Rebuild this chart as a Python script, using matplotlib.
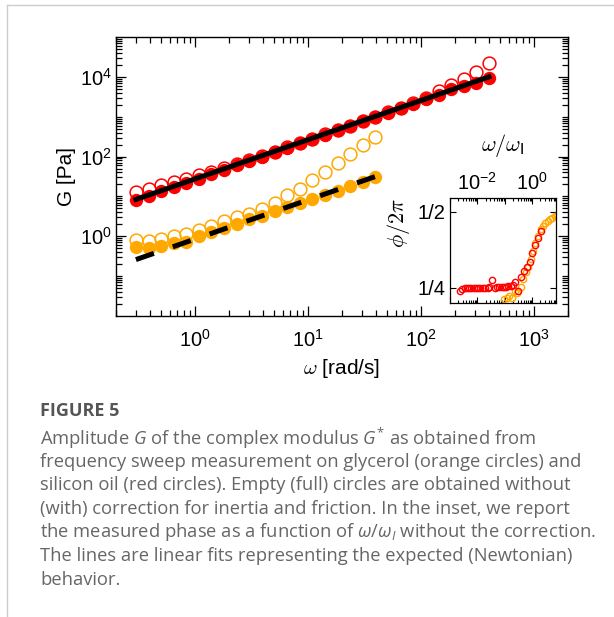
import numpy as np
import matplotlib
matplotlib.use('Agg')
import matplotlib.pyplot as plt
from matplotlib.ticker import LogLocator, NullFormatter, FixedLocator

plt.rcParams['font.family'] = ['Liberation Sans', 'DejaVu Sans']
plt.rcParams['mathtext.fontset'] = 'custom'
plt.rcParams['mathtext.rm'] = 'Open Sans'
plt.rcParams['mathtext.it'] = 'Open Sans:italic'

# frequency sweep [rad/s]
omega = [0.3, 0.388, 0.501, 0.648, 0.838, 1.083, 1.40, 1.81, 2.34, 3.03,
         3.91, 5.06, 6.54, 8.45, 10.9, 14.1, 18.3, 23.6, 30.5, 39.5,
         51.0, 66.0, 85.3, 110, 143, 185, 239, 309, 400]

# silicon oil (red): corrected / uncorrected
red_full = [8.0, 10.5, 13.5, 17.5, 22, 28, 36, 46, 60, 77,
            100, 128, 165, 213, 275, 355, 460, 590, 760, 980,
            1270, 1640, 2100, 2720, 3500, 4900, 5900, 7200, 9600]
red_empty = [12.8, 15.6, 18.9, 23, 28, 35, 42, 52, 65, 82,
             104, 132, 170, 218, 280, 360, 465, 600, 775, 1000,
             1300, 1700, 2250, 3000, 4300, 6300, 8600, 13500, 22000]

# glycerol (orange): corrected / uncorrected
orange_full = [0.54, 0.51, 0.58, 0.68, 0.73, 1.0, 1.26, 1.62, 2.09, 2.74,
               3.3, 4.26, 5.5, 6.7, 8.4, 10.6, 13.6, 18.2, 22.9, 30.6]
orange_empty = [0.83, 0.78, 0.86, 1.04, 1.17, 1.47, 1.86, 2.39, 3.09, 3.67,
                4.7, 6.7, 10.6, 15.6, 25.7, 41, 68, 114, 192, 317]

# Newtonian fits (end points)
fit_red_x = [0.3, 400]
fit_red_y = [8.4, 1.0e4]
fit_orange_x = [0.3, 40]
fit_orange_y = [0.26, 32]

# inset: phase / 2pi vs omega/omega_I
inset_red_x = [10**v for v in [-2.633, -2.557, -2.467, -2.39, -2.31, -2.22, -2.14, -2.06,
                               -1.98, -1.89, -1.8, -1.72, -1.63, -1.56, -1.47, -1.36,
                               -1.28, -1.2, -1.11, -1.03, -0.94, -0.87, -0.78, -0.7,
                               -0.61, -0.53, -0.41, -0.31, -0.2, -0.09, 0.0, 0.11,
                               0.22, 0.31]]
inset_red_y = [0.241, 0.245, 0.248, 0.249, 0.249, 0.249, 0.249, 0.249,
               0.249, 0.249, 0.25, 0.25, 0.25, 0.251, 0.277, 0.25,
               0.251, 0.251, 0.252, 0.253, 0.254, 0.255, 0.257, 0.259,
               0.268, 0.241, 0.284, 0.306, 0.318, 0.336, 0.364, 0.392,
               0.414, 0.436]
inset_orange_x = [10**v for v in [-1.02, -0.93, -0.86, -0.72, -0.64, -0.55, -0.41, -0.32,
                                  -0.24, -0.15, -0.05, 0.03, 0.11, 0.2, 0.31, 0.39,
                                  0.47, 0.56, 0.64, 0.73, 0.82, 0.89]]
inset_orange_y = [0.214, 0.216, 0.224, 0.218, 0.239, 0.232, 0.254, 0.28,
                  0.302, 0.318, 0.345, 0.37, 0.397, 0.42, 0.442, 0.453,
                  0.462, 0.47, 0.476, 0.48, 0.485, 0.487]

RED = '#ff0000'
ORANGE = '#ffa800'

fig = plt.figure(figsize=(6.14, 6.17), dpi=100)

# card border
fig.add_artist(plt.Line2D([7 / 614, 1], [1 - 5 / 617] * 2, color='#cccccc', lw=1))
fig.add_artist(plt.Line2D([7 / 614] * 2, [0, 1 - 5 / 617], color='#cccccc', lw=1))

ax = fig.add_axes([116 / 614, 1 - 316 / 617, 452 / 614, 279 / 617])
ax.plot(omega, red_empty, 'o', mfc='none', mec=RED, mew=1.1, ms=9.2, zorder=2)
ax.plot(omega[:len(orange_empty)], orange_empty, 'o', mfc='none', mec=ORANGE, mew=1.1, ms=9.2, zorder=2)
ax.plot(omega, red_full, 'o', color=RED, mec='none', ms=9.6, zorder=3)
ax.plot(omega[:len(orange_full)], orange_full, 'o', color=ORANGE, mec='none', ms=9.6, zorder=3)
ax.plot(fit_red_x, fit_red_y, '-', color='black', lw=3.6, zorder=4)
ax.plot(fit_orange_x, fit_orange_y, color='black', lw=3.6, dashes=(3.8, 4),
        dash_capstyle='butt', zorder=4)

ax.set_xscale('log')
ax.set_yscale('log')
ax.set_xlim(0.2, 2000)
ax.set_ylim(1e-2, 1e5)
ax.set_yticks([1e0, 1e2, 1e4])
ax.yaxis.set_minor_locator(FixedLocator(
    [m * 10.0 ** e for e in range(-2, 5) for m in range(1, 10) if not (m == 1 and e % 2 == 0)]))
ax.yaxis.set_minor_formatter(NullFormatter())
ax.xaxis.set_minor_locator(LogLocator(base=10, subs=np.arange(2, 10), numticks=20))
ax.xaxis.set_minor_formatter(NullFormatter())
ax.tick_params(which='both', direction='in', top=True, right=True, width=0.9)
ax.tick_params(which='major', length=7, labelsize=14.5)
ax.tick_params(axis='x', which='major', pad=9)
ax.tick_params(axis='y', which='major', pad=3)
ax.tick_params(which='minor', length=4)
for s in ax.spines.values():
    s.set_linewidth(1.0)
ax.set_xlabel(r'$\omega$ [rad/s]', fontsize=15, labelpad=5, math_fontfamily='cm')
ax.set_ylabel('G [Pa]', fontsize=15, labelpad=3)

# inset
ins = fig.add_axes([450 / 614, 1 - 303 / 617, 106 / 614, 105 / 617])
ins.plot(inset_orange_x, inset_orange_y, 'o', mfc='none', mec=ORANGE, mew=1.0, ms=4.5)
ins.plot(inset_red_x, inset_red_y, 'o', mfc='none', mec=RED, mew=1.0, ms=4.5)
ins.set_xscale('log')
ins.set_xlim(2.3e-3, 7.4)
ins.set_ylim(0.2, 0.545)
ins.set_xticks([1e-3, 1e-2, 1e-1, 1e0])
ins.set_xticklabels(['', r'$\mathdefault{10^{-2}}$', '', r'$\mathdefault{10^{0}}$'])
ins.xaxis.set_minor_locator(LogLocator(base=10, subs=np.arange(2, 10), numticks=20))
ins.xaxis.set_minor_formatter(NullFormatter())
ins.set_yticks([0.25, 0.5])
ins.set_yticklabels(['1/4', '1/2'])
ins.xaxis.tick_top()
ins.tick_params(which='both', direction='in', top=True, bottom=True, left=True, right=True,
                width=0.8)
ins.tick_params(which='major', length=4, labelsize=14.5, pad=3)
ins.tick_params(which='minor', length=2)
for s in ins.spines.values():
    s.set_linewidth(0.9)
ins.xaxis.set_label_position('top')
ins.set_xlabel(r'$\omega/\omega_{\mathsf{I}}$', fontsize=16, math_fontfamily='cm')
ins.xaxis.set_label_coords(0.5, 1.45)
ins.set_ylabel(r'$\phi/2\pi$', fontsize=16, math_fontfamily='cm')
ins.yaxis.set_label_coords(-0.36, 0.76)

# caption
cap_lines = [
    r'Amplitude $G$ of the complex modulus $G^{*}$ as obtained from',
    'frequency sweep measurement on glycerol (orange circles) and',
    'silicon oil (red circles). Empty (full) circles are obtained without',
    '(with) correction for inertia and friction. In the inset, we report',
    r'the measured phase as a function of $\omega/\omega_{I}$ without the correction.',
    'The lines are linear fits representing the expected (Newtonian)',
    'behavior.',
]
fig.text(40 / 614, 1 - 411 / 617, 'FIGURE 5', family='Open Sans', weight='bold',
         fontsize=13, color='#555555', va='center')
for i, line in enumerate(cap_lines):
    fig.text(40 / 614, 1 - (438 + 23.6 * i) / 617, line, family='Open Sans',
             fontsize=13.2, color='#666666', va='center')

fig.savefig('out.png', dpi=100)
